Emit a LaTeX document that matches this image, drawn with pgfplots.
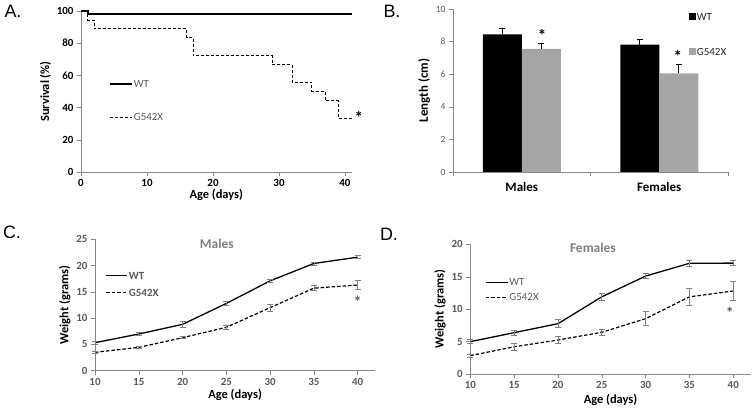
\documentclass[border=0pt]{standalone}
\usepackage{pgfplots}
\pgfplotsset{compat=1.18}
\usepackage{fontspec}
\setmainfont{Carlito}
\newfontfamily\letterfont{Liberation Sans}
\definecolor{axgray}{HTML}{868686}
\definecolor{tickgray}{HTML}{595959}
\definecolor{bargray}{HTML}{A6A6A6}
\definecolor{titlegray}{HTML}{7F7F7F}
\definecolor{errgray}{HTML}{808080}

\pgfplotstableread{
x  y     e
10 5.33  0.25
15 6.98  0.25
20 8.82  0.5
25 12.8  0.35
30 17.1  0.35
35 20.4  0.3
40 21.6  0.3
}\CWT
\pgfplotstableread{
x  y     e
10 3.5   0.2
15 4.44  0.2
20 6.28  0.2
25 8.25  0.4
30 12.0  0.7
35 15.7  0.5
40 16.3  0.8
}\CMUT
\pgfplotstableread{
x  y     e
10 4.99  0.3
15 6.37  0.4
20 7.76  0.6
25 11.9  0.5
30 15.1  0.4
35 17.07 0.4
40 17.1  0.4
}\DWT
\pgfplotstableread{
x  y     e
10 2.83  0.2
15 4.2   0.5
20 5.24  0.5
25 6.43  0.5
30 8.53  1.1
35 11.9  1.3
40 12.8  1.5
}\DMUT

\pgfplotsset{
  base/.style={scale only axis, axis x line*=bottom, axis y line*=left,
    axis line style={draw=axgray,-}, tick style={draw=axgray, thin},
    tick align=outside, major tick length=4bp,
    /pgf/number format/assume math mode=true, clip=false,
    legend cell align=left,
    legend style={draw=none, fill=none, inner sep=0pt, outer sep=0pt,
      nodes={inner sep=1bp, text depth=0pt, text height=7bp}}},
  lineleg/.style={legend image code/.code={\draw[##1] (0bp,0bp) -- (#1,0bp);}},
  barleg/.style={legend image code/.code={\fill[##1, draw=none] (0bp,-3.5bp) rectangle (7bp,3.5bp);}},
  errs/.style={error bars/.cd, y dir=both, y explicit,
    error bar style={draw=errgray, line width=0.7bp, solid},
    error mark options={rotate=90, mark size=3bp, draw=errgray, line width=0.7bp, solid}},
}

\begin{document}
\begin{tikzpicture}
\path[use as bounding box] (0bp,0bp) rectangle (752bp,411bp);

% Panel letters
\node[font=\letterfont\fontsize{18}{20}\selectfont] at (13bp,400bp) {A.};
\node[font=\letterfont\fontsize{18}{20}\selectfont] at (392bp,400bp) {B.};
\node[font=\letterfont\fontsize{18}{20}\selectfont] at (12bp,179bp) {C.};
\node[font=\letterfont\fontsize{18}{20}\selectfont] at (389bp,177bp) {D.};

% ---------------- Panel A ----------------
\begin{axis}[base, at={(81bp,239bp)}, anchor=south west,
  width=270.6bp, height=161bp,
  xmin=0, xmax=41, ymin=0, ymax=100,
  xtick={0,10,20,30,40}, ytick={0,20,40,60,80,100},
  ticklabel style={font=\bfseries\fontsize{11}{12}\selectfont, text=black},
  xlabel={Age (days)}, ylabel={Survival (\%)},
  label style={font=\bfseries\fontsize{12.5}{14}\selectfont},
  xlabel style={yshift=4bp}, ylabel style={yshift=-1bp},
  lineleg=22bp,
  legend style={at={(0.103,0.444)}, anchor=west, row sep=24bp,
    font=\fontsize{11}{12}\selectfont, text=tickgray},
]
\addplot[const plot, black, line width=2bp] coordinates {(0,100)(1,98)(41,98)};
\addlegendentry{WT}
\addplot[const plot, black, line width=1bp, dash pattern=on 3bp off 2bp] coordinates {
(0,100)(1,94.4)(2,88.9)(16,83.3)(17,72.2)(29,66.7)(32,55.6)(35,50)(37,44.4)(39,33.3)(41,33.3)};
\addlegendentry{G542X}
\node[font=\bfseries\fontsize{17}{17}\selectfont] at (axis cs:42.1,34) {*};
\end{axis}

% ---------------- Panel B ----------------
\begin{axis}[base, at={(453bp,239bp)}, anchor=south west,
  width=275bp, height=163bp,
  xmin=-0.5, xmax=1.5, ymin=0, ymax=10,
  ytick={0,2,4,6,8,10},
  yticklabel style={font=\fontsize{9.5}{10}\selectfont, text=tickgray},
  xtick={0,1}, xticklabels={Males,Females},
  xticklabel style={font=\bfseries\fontsize{13}{14}\selectfont, text=black, yshift=-3bp},
  major x tick style={draw=none},
  extra x ticks={-0.5,0.5,1.5}, extra x tick labels={},
  extra x tick style={major x tick style={draw=axgray, thin}},
  ylabel={Length (cm)},
  ylabel style={font=\bfseries\fontsize{13}{14}\selectfont, yshift=-1bp},
  ybar=0pt, bar width=39bp,
  barleg,
  legend style={at={(0.858,0.844)}, anchor=west, row sep=26bp,
    font=\fontsize{11}{12}\selectfont, text=black!85},
]
\addplot[fill=black, draw=none,
  error bars/.cd, y dir=plus, y explicit,
  error bar style={black, line width=0.6bp},
  error mark options={rotate=90, mark size=3bp, black, line width=0.6bp}]
  coordinates {(0,8.45) +- (0,0.35) (1,7.82) +- (0,0.32)};
\addlegendentry{WT}
\addplot[fill=bargray, draw=none,
  error bars/.cd, y dir=plus, y explicit,
  error bar style={black, line width=0.6bp},
  error mark options={rotate=90, mark size=3bp, black, line width=0.6bp}]
  coordinates {(0,7.56) +- (0,0.34) (1,6.05) +- (0,0.53)};
\addlegendentry{G542X}
\node[font=\bfseries\fontsize{17}{17}\selectfont] at (axis cs:0.147,8.35) {*};
\node[font=\bfseries\fontsize{17}{17}\selectfont] at (axis cs:1.136,7.1) {*};
\end{axis}

% ---------------- Panel C ----------------
\begin{axis}[base, at={(95bp,40.3bp)}, anchor=south west,
  width=280.2bp, height=131.4bp,
  xmin=10, xmax=42, ymin=0, ymax=25,
  xtick={10,15,...,40}, ytick={0,5,...,25},
  ticklabel style={font=\bfseries\fontsize{11}{12}\selectfont, text=tickgray},
  xlabel={Age (days)}, ylabel={Weight (grams)},
  label style={font=\bfseries\fontsize{12.5}{14}\selectfont},
  xlabel style={yshift=3bp}, ylabel style={yshift=-1bp},
  lineleg=21bp,
  legend style={at={(0.038,0.659)}, anchor=west, row sep=8bp,
    font=\bfseries\fontsize{11}{12}\selectfont, text=tickgray},
]
\addplot[black, line width=1.3bp, errs] table[x=x, y=y, y error=e] {\CWT};
\addlegendentry{WT}
\addplot[black, line width=1.2bp, dash pattern=on 3.5bp off 2bp, errs] table[x=x, y=y, y error=e] {\CMUT};
\addlegendentry{G542X}
\node[font=\bfseries\fontsize{16}{16}\selectfont, text=tickgray] at (axis cs:40,13.2) {*};
\node[font=\bfseries\fontsize{13.5}{14}\selectfont, text=titlegray] at (rel axis cs:0.435,0.967) {Males};
\end{axis}

% ---------------- Panel D ----------------
\begin{axis}[base, at={(470.3bp,37bp)}, anchor=south west,
  width=280.5bp, height=129.7bp,
  xmin=10, xmax=42, ymin=0, ymax=20,
  xtick={10,15,...,40}, ytick={0,5,...,20},
  ticklabel style={font=\bfseries\fontsize{11}{12}\selectfont, text=tickgray},
  xlabel={Age (days)}, ylabel={Weight (grams)},
  label style={font=\bfseries\fontsize{12.5}{14}\selectfont},
  xlabel style={yshift=1bp}, ylabel style={yshift=-1bp},
  lineleg=22bp,
  legend style={at={(0.053,0.648)}, anchor=west, row sep=6bp,
    font=\fontsize{11}{12}\selectfont, text=tickgray},
]
\addplot[black, line width=1.3bp, errs] table[x=x, y=y, y error=e] {\DWT};
\addlegendentry{WT}
\addplot[black, line width=1.2bp, dash pattern=on 3.5bp off 2bp, errs] table[x=x, y=y, y error=e] {\DMUT};
\addlegendentry{G542X}
\node[font=\bfseries\fontsize{16}{16}\selectfont, text=tickgray] at (axis cs:39.6,9.5) {*};
\node[font=\bfseries\fontsize{13.5}{14}\selectfont, text=titlegray] at (rel axis cs:0.437,0.971) {Females};
\end{axis}
\end{tikzpicture}
\end{document}
